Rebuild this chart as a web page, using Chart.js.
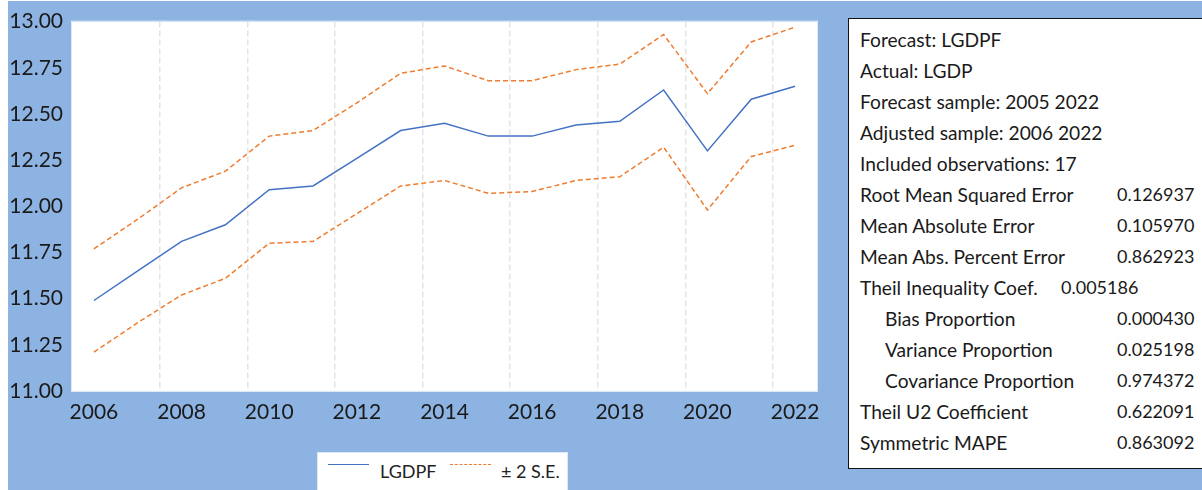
<!DOCTYPE html>
<html>
<head>
<meta charset="utf-8">
<script src="https://cdn.jsdelivr.net/npm/chart.js@4"></script>
<style>
  html, body { margin: 0; padding: 0; background: #fff; }
  body { width: 1202px; height: 490px; position: relative; overflow: hidden; font-family: Lato, "Open Sans", sans-serif; }
  #bg { position: absolute; left: 8px; top: 1px; right: 0; bottom: 0; background: #8db3e2; }
  #wrap { position: absolute; left: 0; top: 0; width: 840px; height: 490px; }
  #legend { position: absolute; left: 317px; top: 452px; width: 251px; height: 40px; background: #fff;
            border: 1px solid #dfe7f3; box-sizing: border-box; font-size: 18px; color: #222; }
  #legend .item { position: absolute; top: 7px; line-height: 22px; }
  #legend .swatch { position: absolute; top: 11px; width: 41px; height: 0; }
  #stats { position: absolute; left: 848px; top: 18px; width: 370px; height: 451px; background: #fff;
           border: 1px solid #111; box-sizing: border-box; font-size: 19.2px; color: #1a1a1a; }
  #stats .row { position: absolute; left: 11px; height: 31px; line-height: 31px; white-space: nowrap; }
  #stats .val { position: absolute; white-space: nowrap; height: 31px; line-height: 31px; font-size: 18px; }
</style>
</head>
<body>
<div id="bg"></div>
<div id="wrap"><canvas id="chart"></canvas></div>
<div id="legend"></div>
<div id="stats"></div>
<script>
(function(){
    "use strict";

    // data
    const years = ['2006','2007','2008','2009','2010','2011','2012','2013','2014',
                   '2015','2016','2017','2018','2019','2020','2021','2022'];
    const forecast = [11.49, 11.65, 11.81, 11.90, 12.09, 12.11, 12.26, 12.41, 12.45,
                      12.38, 12.38, 12.44, 12.46, 12.63, 12.30, 12.58, 12.65];
    const upperSE = [11.77, 11.93, 12.10, 12.19, 12.38, 12.41, 12.56, 12.72, 12.76,
                     12.68, 12.68, 12.74, 12.77, 12.93, 12.61, 12.89, 12.97];
    const lowerSE = [11.21, 11.37, 11.52, 11.61, 11.80, 11.81, 11.96, 12.11, 12.14,
                     12.07, 12.08, 12.14, 12.16, 12.32, 11.98, 12.27, 12.33];
    const yTicks = [11.00, 11.25, 11.50, 11.75, 12.00, 12.25, 12.50, 12.75, 13.00];

    // forecast evaluation table
    const statLabels = ['Forecast: LGDPF', 'Actual: LGDP', 'Forecast sample: 2005 2022',
                        'Adjusted sample: 2006 2022', 'Included observations: 17',
                        'Root Mean Squared Error', 'Mean Absolute Error', 'Mean Abs. Percent Error',
                        'Theil Inequality Coef.', 'Bias Proportion', 'Variance Proportion',
                        'Covariance Proportion', 'Theil U2 Coefficient', 'Symmetric MAPE'];
    const statValues = ['', '', '', '', '', '0.126937', '0.105970', '0.862923',
                        '0.005186', '0.000430', '0.025198', '0.974372', '0.622091', '0.863092'];
    const statIndent = [9, 10, 11];

    const blue = '#4472c4';
    const orange = '#ed7d31';

    // white plot area on the blue frame
    const plotBg = {
        id: 'plotBg',
        beforeDraw(chart) {
            const a = chart.chartArea;
            const c = chart.ctx;
            c.save();
            c.fillStyle = '#fff';
            c.fillRect(a.left, a.top, a.right - a.left, a.bottom - a.top);
            c.strokeStyle = '#dfe8f5';
            c.lineWidth = 1;
            c.strokeRect(a.left - 0.5, a.top - 0.5, a.right - a.left + 1, a.bottom - a.top + 1);
            c.restore();
        }
    };

    const chart = new Chart(document.getElementById('chart'), {
        type: 'line',
        data: {
            labels: years,
            datasets: [
                { label: 'LGDPF', data: forecast, borderColor: blue, borderWidth: 1.5 },
                { label: '\u00b1 2 S.E.', data: upperSE, borderColor: orange, borderWidth: 1.5, borderDash: [5, 3] },
                { label: '\u00b1 2 S.E.', data: lowerSE, borderColor: orange, borderWidth: 1.5, borderDash: [5, 3] }
            ]
        },
        options: {
            responsive: true,
            maintainAspectRatio: false,
            animation: false,
            layout: { padding: { top: 18, right: 23, left: 0, bottom: 0 } },
            elements: { point: { radius: 0 }, line: { tension: 0 } },
            plugins: { legend: { display: false }, tooltip: { enabled: false } },
            scales: {
                x: {
                    offset: true,
                    border: { display: false, dash: [6, 3] },
                    grid: {
                        offset: true,
                        drawTicks: false,
                        lineWidth: 1.5,
                        color: ctx => (ctx.index > 0 && ctx.index < years.length && ctx.index % 2 === 0) ? '#e4e4e4' : 'rgba(0,0,0,0)'
                    },
                    ticks: {
                        autoSkip: false,
                        maxRotation: 0,
                        padding: 9,
                        color: '#1a1a1a',
                        font: { family: 'Lato', size: 21 },
                        callback: (v, i) => i % 2 === 0 ? years[i] : ''
                    },
                    afterFit: scale => { scale.height = 99; }
                },
                y: {
                    min: yTicks[0],
                    max: yTicks[yTicks.length - 1],
                    border: { display: false },
                    grid: { display: false, drawTicks: false },
                    afterBuildTicks: scale => { scale.ticks = yTicks.map(v => ({ value: v })); },
                    ticks: {
                        padding: 9,
                        color: '#1a1a1a',
                        font: { family: 'Lato', size: 21 },
                        callback: v => Number(v).toFixed(2)
                    },
                    afterFit: scale => { scale.width = 72; }
                }
            }
        },
        plugins: [plotBg]
    });

    // legend built from the datasets (one entry per label)
    function buildLegend() {
        const seen = [];
        let html = '';
        const pos = [{ sw: 10, tx: 62 }, { sw: 132, tx: 183 }];
        chart.data.datasets.forEach(function(ds){
            if (seen.indexOf(ds.label) !== -1) return;
            const p = pos[seen.length];
            seen.push(ds.label);
            const style = ds.borderDash ? 'dashed' : 'solid';
            html += `<div class="swatch" style="left:${p.sw}px;border-top:1.5px ${style} ${ds.borderColor}"></div>`;
            html += `<div class="item" style="left:${p.tx}px">${ds.label}</div>`;
        });
        document.getElementById('legend').innerHTML = html;
    }

    function buildStats() {
        let html = '';
        statLabels.forEach(function(label, i){
            const top = 5 + i * 31;
            const left = statIndent.indexOf(i) !== -1 ? 36 : 11;
            html += `<div class="row" style="top:${top}px;left:${left}px">${label}</div>`;
            if (statValues[i]) {
                const vx = label.indexOf('Theil Inequality') === 0 ? 212 : 268;
                html += `<div class="val" style="top:${top}px;left:${vx}px">${statValues[i]}</div>`;
            }
        });
        document.getElementById('stats').innerHTML = html;
    }

    buildLegend();
    buildStats();
})();
</script>
</body>
</html>
